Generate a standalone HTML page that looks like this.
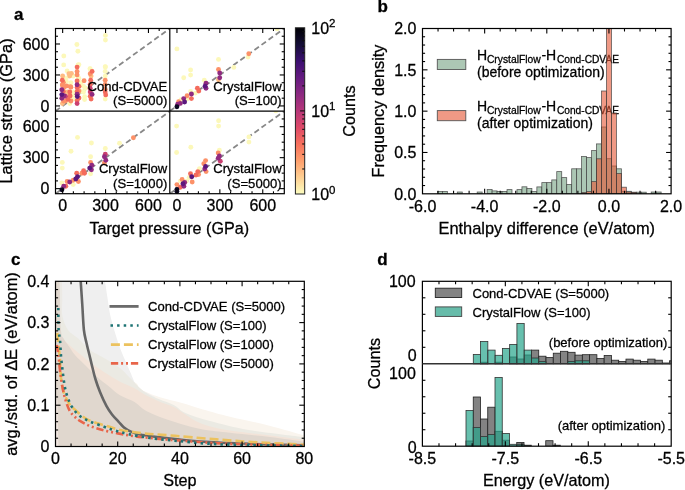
<!DOCTYPE html>
<html><head><meta charset="utf-8"><style>
html,body{margin:0;padding:0;background:#fff;}
svg{display:block;font-family:"Liberation Sans", sans-serif;will-change:transform;} text{stroke:#000;stroke-width:0.28px;}
</style></head><body>
<svg width="685" height="490" viewBox="0 0 685 490">
<rect width="685" height="490" fill="#fff"/>
<text x="14.10" y="20.20" font-size="17" text-anchor="start" font-weight="bold" fill="#000" >a</text>
<text x="377.40" y="12.40" font-size="17" text-anchor="start" font-weight="bold" fill="#000" >b</text>
<text x="10.90" y="264.90" font-size="17" text-anchor="start" font-weight="bold" fill="#000" >c</text>
<text x="377.30" y="264.60" font-size="17" text-anchor="start" font-weight="bold" fill="#000" >d</text>
<defs>
<clipPath id="cp_tl"><rect x="55.5" y="28.5" width="114.4" height="82.6"/></clipPath>
<clipPath id="cp_tr"><rect x="169.8" y="28.5" width="114.4" height="82.6"/></clipPath>
<clipPath id="cp_bl"><rect x="55.5" y="111.2" width="114.4" height="82.6"/></clipPath>
<clipPath id="cp_br"><rect x="169.8" y="111.2" width="114.4" height="82.6"/></clipPath>
<linearGradient id="cbar" x1="0" y1="0" x2="0" y2="1"><stop offset="0.00" stop-color="#000004"/><stop offset="0.10" stop-color="#140e36"/><stop offset="0.20" stop-color="#3b0f70"/><stop offset="0.30" stop-color="#641a80"/><stop offset="0.40" stop-color="#8c2981"/><stop offset="0.50" stop-color="#b73779"/><stop offset="0.60" stop-color="#de4968"/><stop offset="0.70" stop-color="#f7705c"/><stop offset="0.80" stop-color="#fe9f6d"/><stop offset="0.90" stop-color="#fecf92"/><stop offset="1.00" stop-color="#fcfdbf"/></linearGradient>
</defs>
<g clip-path="url(#cp_tl)">
<line x1="55.50" y1="111.10" x2="169.90" y2="28.50" stroke="#888" stroke-width="1.8" stroke-dasharray="5.5 3.2"/>
<circle cx="105.4" cy="35.4" r="2.45" fill="#fcf8ba"/>
<circle cx="105.4" cy="40.1" r="2.45" fill="#fcf8ba"/>
<circle cx="76.9" cy="44.5" r="2.45" fill="#fcf8ba"/>
<circle cx="77.9" cy="51.2" r="2.45" fill="#fcf8ba"/>
<circle cx="63.8" cy="56" r="2.45" fill="#fcf8ba"/>
<circle cx="63.7" cy="64.9" r="2.45" fill="#fcf8ba"/>
<circle cx="78" cy="64.9" r="2.45" fill="#fcf8ba"/>
<circle cx="90" cy="68.7" r="2.45" fill="#fcf8ba"/>
<circle cx="105.4" cy="67" r="2.45" fill="#fcf8ba"/>
<circle cx="67.1" cy="70.9" r="2.45" fill="#fcf8ba"/>
<circle cx="73.1" cy="76" r="2.45" fill="#fcf8ba"/>
<circle cx="78.3" cy="78.3" r="2.45" fill="#fcf8ba"/>
<circle cx="66.3" cy="78" r="2.45" fill="#fcf8ba"/>
<circle cx="70.9" cy="82.6" r="2.45" fill="#fcf8ba"/>
<circle cx="66.3" cy="81.4" r="2.45" fill="#fcf8ba"/>
<circle cx="80.6" cy="82.6" r="2.45" fill="#fcf8ba"/>
<circle cx="70.3" cy="85.1" r="2.45" fill="#fcf8ba"/>
<circle cx="65.5" cy="92" r="2.45" fill="#fcf8ba"/>
<circle cx="73" cy="92" r="2.45" fill="#fcf8ba"/>
<circle cx="67.9" cy="96.2" r="2.45" fill="#fcf8ba"/>
<circle cx="73" cy="95.7" r="2.45" fill="#fcf8ba"/>
<circle cx="73" cy="98.9" r="2.45" fill="#fcf8ba"/>
<circle cx="69.8" cy="103.6" r="2.45" fill="#fcf8ba"/>
<circle cx="81" cy="85.1" r="2.45" fill="#fcf8ba"/>
<circle cx="81" cy="91.4" r="2.45" fill="#fcf8ba"/>
<circle cx="78.9" cy="64.8" r="2.45" fill="#fcf8ba"/>
<circle cx="90.2" cy="69" r="2.45" fill="#fcf8ba"/>
<circle cx="78.9" cy="78.4" r="2.45" fill="#fcf8ba"/>
<circle cx="80.8" cy="83.6" r="2.45" fill="#fcf8ba"/>
<circle cx="83.6" cy="86.4" r="2.45" fill="#fcf8ba"/>
<circle cx="85.5" cy="88.3" r="2.45" fill="#fcf8ba"/>
<circle cx="83.6" cy="92" r="2.45" fill="#fcf8ba"/>
<circle cx="84.6" cy="96.7" r="2.45" fill="#fcf8ba"/>
<circle cx="84.6" cy="99.6" r="2.45" fill="#fcf8ba"/>
<circle cx="105.2" cy="66.7" r="2.45" fill="#fcf8ba"/>
<circle cx="105.2" cy="71.4" r="2.45" fill="#fcf8ba"/>
<circle cx="105.2" cy="76.1" r="2.45" fill="#fcf8ba"/>
<circle cx="105.2" cy="99.1" r="2.45" fill="#fcf8ba"/>
<circle cx="68.9" cy="73.7" r="2.45" fill="#febc83"/>
<circle cx="71.4" cy="73.4" r="2.45" fill="#febc83"/>
<circle cx="69.7" cy="76" r="2.45" fill="#febc83"/>
<circle cx="62.6" cy="76" r="2.45" fill="#febc83"/>
<circle cx="62.4" cy="85.1" r="2.45" fill="#febc83"/>
<circle cx="67.7" cy="92" r="2.45" fill="#febc83"/>
<circle cx="62.4" cy="103.6" r="2.45" fill="#febc83"/>
<circle cx="91.1" cy="76.1" r="2.45" fill="#febc83"/>
<circle cx="77.1" cy="71.4" r="2.45" fill="#fc9168"/>
<circle cx="77.1" cy="74.9" r="2.45" fill="#fc9168"/>
<circle cx="63.4" cy="82.6" r="2.45" fill="#fc9168"/>
<circle cx="62.3" cy="84.9" r="2.45" fill="#fc9168"/>
<circle cx="66.6" cy="86" r="2.45" fill="#fc9168"/>
<circle cx="70.3" cy="86.6" r="2.45" fill="#fc9168"/>
<circle cx="64" cy="87.2" r="2.45" fill="#fc9168"/>
<circle cx="70.9" cy="87.2" r="2.45" fill="#fc9168"/>
<circle cx="63.4" cy="101" r="2.45" fill="#fc9168"/>
<circle cx="65.5" cy="101" r="2.45" fill="#fc9168"/>
<circle cx="70.9" cy="101" r="2.45" fill="#fc9168"/>
<circle cx="90.2" cy="73.7" r="2.45" fill="#fc9168"/>
<circle cx="84.1" cy="80.8" r="2.45" fill="#fc9168"/>
<circle cx="79" cy="91.1" r="2.45" fill="#fc9168"/>
<circle cx="105.2" cy="80.3" r="2.45" fill="#fc9168"/>
<circle cx="105.2" cy="84.5" r="2.45" fill="#fc9168"/>
<circle cx="105.2" cy="89.2" r="2.45" fill="#fc9168"/>
<circle cx="77.1" cy="67.1" r="2.45" fill="#f46c5d"/>
<circle cx="62.3" cy="80.3" r="2.45" fill="#f46c5d"/>
<circle cx="63.4" cy="91.4" r="2.45" fill="#f46c5d"/>
<circle cx="69.8" cy="92" r="2.45" fill="#f46c5d"/>
<circle cx="70.1" cy="95.9" r="2.45" fill="#f46c5d"/>
<circle cx="68.2" cy="99.4" r="2.45" fill="#f46c5d"/>
<circle cx="77.1" cy="81" r="2.45" fill="#f46c5d"/>
<circle cx="77.1" cy="87.6" r="2.45" fill="#f46c5d"/>
<circle cx="77.1" cy="91.4" r="2.45" fill="#f46c5d"/>
<circle cx="77.1" cy="100.7" r="2.45" fill="#f46c5d"/>
<circle cx="92.1" cy="71.4" r="2.45" fill="#f46c5d"/>
<circle cx="90.7" cy="80.3" r="2.45" fill="#f46c5d"/>
<circle cx="90.2" cy="84.5" r="2.45" fill="#f46c5d"/>
<circle cx="90.2" cy="96.3" r="2.45" fill="#f46c5d"/>
<circle cx="91.1" cy="99.1" r="2.45" fill="#f46c5d"/>
<circle cx="79" cy="86.4" r="2.45" fill="#f46c5d"/>
<circle cx="79" cy="98" r="2.45" fill="#f46c5d"/>
<circle cx="105.2" cy="92" r="2.45" fill="#f46c5d"/>
<circle cx="105.7" cy="94.9" r="2.45" fill="#f46c5d"/>
<circle cx="65.5" cy="96.2" r="2.45" fill="#ca4070"/>
<circle cx="77.1" cy="103.6" r="2.45" fill="#ca4070"/>
<circle cx="90.2" cy="88.3" r="2.45" fill="#ca4070"/>
<circle cx="90.2" cy="92" r="2.45" fill="#ca4070"/>
<circle cx="61.8" cy="89.8" r="2.45" fill="#902a80"/>
<circle cx="64" cy="95.7" r="2.45" fill="#902a80"/>
<circle cx="61.8" cy="98.3" r="2.45" fill="#902a80"/>
<circle cx="77.1" cy="84.8" r="2.45" fill="#902a80"/>
<circle cx="77.1" cy="94.2" r="2.45" fill="#902a80"/>
<circle cx="92.1" cy="94.4" r="2.45" fill="#902a80"/>
<circle cx="61.8" cy="94.6" r="2.45" fill="#5c187d"/>
<circle cx="77.3" cy="96.6" r="2.45" fill="#5c187d"/>
</g>
<g clip-path="url(#cp_tr)">
<line x1="169.80" y1="111.10" x2="284.20" y2="28.50" stroke="#888" stroke-width="1.8" stroke-dasharray="5.5 3.2"/>
<circle cx="176.9" cy="48.9" r="2.45" fill="#fcf8ba"/>
<circle cx="183.7" cy="77.7" r="2.45" fill="#fcf8ba"/>
<circle cx="190.6" cy="70" r="2.45" fill="#fcf8ba"/>
<circle cx="190.6" cy="75.1" r="2.45" fill="#fcf8ba"/>
<circle cx="218.5" cy="59.4" r="2.45" fill="#fcf8ba"/>
<circle cx="233.8" cy="67.4" r="2.45" fill="#fcf8ba"/>
<circle cx="248" cy="57.1" r="2.45" fill="#fcf8ba"/>
<circle cx="204.3" cy="80.3" r="2.45" fill="#fcf8ba"/>
<circle cx="195.4" cy="93.1" r="2.45" fill="#fcf8ba"/>
<circle cx="190.6" cy="91.4" r="2.45" fill="#fcf8ba"/>
<circle cx="187.1" cy="99.1" r="2.45" fill="#fcf8ba"/>
<circle cx="181.1" cy="99.6" r="2.45" fill="#fcf8ba"/>
<circle cx="277.1" cy="28.9" r="2.45" fill="#fcf8ba"/>
<circle cx="218.5" cy="79.8" r="2.45" fill="#febc83"/>
<circle cx="218.5" cy="69.5" r="2.45" fill="#fc9168"/>
<circle cx="248.8" cy="53.7" r="2.45" fill="#fc9168"/>
<circle cx="187.1" cy="95.7" r="2.45" fill="#fc9168"/>
<circle cx="178.6" cy="101.7" r="2.45" fill="#fc9168"/>
<circle cx="197.4" cy="88.3" r="2.45" fill="#f46c5d"/>
<circle cx="198.8" cy="91.1" r="2.45" fill="#f46c5d"/>
<circle cx="191.4" cy="98.6" r="2.45" fill="#f46c5d"/>
<circle cx="219.7" cy="72.9" r="2.45" fill="#902a80"/>
<circle cx="219.7" cy="77.7" r="2.45" fill="#902a80"/>
<circle cx="206" cy="83.2" r="2.45" fill="#902a80"/>
<circle cx="206" cy="88.3" r="2.45" fill="#902a80"/>
<circle cx="191.4" cy="94" r="2.45" fill="#902a80"/>
<circle cx="183.7" cy="98.6" r="2.45" fill="#902a80"/>
<circle cx="180.3" cy="103.4" r="2.45" fill="#902a80"/>
<circle cx="177.7" cy="104.3" r="2.45" fill="#902a80"/>
<circle cx="205.1" cy="86.3" r="2.45" fill="#5c187d"/>
<circle cx="184.6" cy="102" r="2.45" fill="#5c187d"/>
<circle cx="176.9" cy="106.8" r="2.45" fill="#0c0822"/>
</g>
<g clip-path="url(#cp_bl)">
<line x1="55.50" y1="193.80" x2="169.90" y2="111.20" stroke="#888" stroke-width="1.8" stroke-dasharray="5.5 3.2"/>
<circle cx="77.5" cy="137.4" r="2.45" fill="#fcf8ba"/>
<circle cx="71" cy="151.3" r="2.45" fill="#fcf8ba"/>
<circle cx="91.4" cy="143" r="2.45" fill="#fcf8ba"/>
<circle cx="105.3" cy="148.5" r="2.45" fill="#fcf8ba"/>
<circle cx="119.5" cy="143.3" r="2.45" fill="#fcf8ba"/>
<circle cx="62.3" cy="162.4" r="2.45" fill="#fcf8ba"/>
<circle cx="62.3" cy="168.1" r="2.45" fill="#fcf8ba"/>
<circle cx="90.6" cy="156.8" r="2.45" fill="#fcf8ba"/>
<circle cx="90.6" cy="173.8" r="2.45" fill="#fcf8ba"/>
<circle cx="73.2" cy="184.6" r="2.45" fill="#fcf8ba"/>
<circle cx="61.9" cy="182.9" r="2.45" fill="#fcf8ba"/>
<circle cx="133.4" cy="137.8" r="2.45" fill="#fc9168"/>
<circle cx="90.6" cy="162.4" r="2.45" fill="#fc9168"/>
<circle cx="104.4" cy="162.9" r="2.45" fill="#fc9168"/>
<circle cx="81.9" cy="173.3" r="2.45" fill="#fc9168"/>
<circle cx="78.4" cy="181.5" r="2.45" fill="#fc9168"/>
<circle cx="73.2" cy="180.3" r="2.45" fill="#fc9168"/>
<circle cx="67.1" cy="181.5" r="2.45" fill="#fc9168"/>
<circle cx="83.6" cy="170.7" r="2.45" fill="#f46c5d"/>
<circle cx="84.5" cy="173.3" r="2.45" fill="#f46c5d"/>
<circle cx="76.7" cy="173.3" r="2.45" fill="#f46c5d"/>
<circle cx="65.8" cy="186.3" r="2.45" fill="#f46c5d"/>
<circle cx="105.3" cy="154.2" r="2.45" fill="#ca4070"/>
<circle cx="91.8" cy="165.2" r="2.45" fill="#902a80"/>
<circle cx="91.4" cy="169.8" r="2.45" fill="#902a80"/>
<circle cx="104.4" cy="156.8" r="2.45" fill="#902a80"/>
<circle cx="105.8" cy="160.3" r="2.45" fill="#902a80"/>
<circle cx="69.7" cy="182" r="2.45" fill="#902a80"/>
<circle cx="63.7" cy="186.3" r="2.45" fill="#902a80"/>
<circle cx="89.7" cy="168.1" r="2.45" fill="#5c187d"/>
<circle cx="77.5" cy="176.8" r="2.45" fill="#5c187d"/>
<circle cx="75.8" cy="179" r="2.45" fill="#5c187d"/>
<circle cx="61.9" cy="189.8" r="2.45" fill="#0c0822"/>
</g>
<g clip-path="url(#cp_br)">
<line x1="169.80" y1="193.80" x2="284.20" y2="111.20" stroke="#888" stroke-width="1.8" stroke-dasharray="5.5 3.2"/>
<circle cx="176.6" cy="126.1" r="2.45" fill="#fcf8ba"/>
<circle cx="218.6" cy="120.8" r="2.45" fill="#fcf8ba"/>
<circle cx="218.6" cy="126.1" r="2.45" fill="#fcf8ba"/>
<circle cx="248.9" cy="136.9" r="2.45" fill="#fcf8ba"/>
<circle cx="248.9" cy="142.1" r="2.45" fill="#fcf8ba"/>
<circle cx="190.8" cy="147.3" r="2.45" fill="#fcf8ba"/>
<circle cx="176.6" cy="152.5" r="2.45" fill="#fcf8ba"/>
<circle cx="219.4" cy="150.2" r="2.45" fill="#fcf8ba"/>
<circle cx="199.5" cy="168.6" r="2.45" fill="#fcf8ba"/>
<circle cx="189.1" cy="177.6" r="2.45" fill="#fcf8ba"/>
<circle cx="186.5" cy="181.1" r="2.45" fill="#fcf8ba"/>
<circle cx="180.4" cy="181.1" r="2.45" fill="#fcf8ba"/>
<circle cx="275.8" cy="110.9" r="2.45" fill="#fcf8ba"/>
<circle cx="218.2" cy="153" r="2.45" fill="#fc9168"/>
<circle cx="205.6" cy="160.6" r="2.45" fill="#fc9168"/>
<circle cx="203.8" cy="163.8" r="2.45" fill="#fc9168"/>
<circle cx="206.1" cy="171.6" r="2.45" fill="#fc9168"/>
<circle cx="198.6" cy="174.5" r="2.45" fill="#fc9168"/>
<circle cx="192.2" cy="182" r="2.45" fill="#fc9168"/>
<circle cx="182.1" cy="179.4" r="2.45" fill="#fc9168"/>
<circle cx="176.9" cy="184.6" r="2.45" fill="#fc9168"/>
<circle cx="197.8" cy="171.6" r="2.45" fill="#f46c5d"/>
<circle cx="196" cy="175" r="2.45" fill="#f46c5d"/>
<circle cx="190.5" cy="173.8" r="2.45" fill="#f46c5d"/>
<circle cx="180.4" cy="187.2" r="2.45" fill="#f46c5d"/>
<circle cx="220.3" cy="161.2" r="2.45" fill="#ca4070"/>
<circle cx="219.4" cy="156" r="2.45" fill="#902a80"/>
<circle cx="218.2" cy="158.2" r="2.45" fill="#902a80"/>
<circle cx="204.7" cy="169" r="2.45" fill="#902a80"/>
<circle cx="184.7" cy="182.5" r="2.45" fill="#902a80"/>
<circle cx="183.9" cy="186.3" r="2.45" fill="#902a80"/>
<circle cx="205.6" cy="166.4" r="2.45" fill="#5c187d"/>
<circle cx="191.7" cy="176.8" r="2.45" fill="#5c187d"/>
<circle cx="183" cy="183.7" r="2.45" fill="#5c187d"/>
<circle cx="176.9" cy="189.4" r="2.45" fill="#0c0822"/>
<circle cx="176.9" cy="191.5" r="2.45" fill="#0c0822"/>
</g>
<text x="167.30" y="90.70" font-size="13.1" text-anchor="end" font-weight="normal" fill="#000" >Cond-CDVAE</text>
<text x="167.30" y="105.10" font-size="13.1" text-anchor="end" font-weight="normal" fill="#000" >(S=5000)</text>
<text x="281.60" y="90.70" font-size="13.1" text-anchor="end" font-weight="normal" fill="#000" >CrystalFlow</text>
<text x="281.60" y="105.10" font-size="13.1" text-anchor="end" font-weight="normal" fill="#000" >(S=100)</text>
<text x="167.30" y="173.40" font-size="13.1" text-anchor="end" font-weight="normal" fill="#000" >CrystalFlow</text>
<text x="167.30" y="187.80" font-size="13.1" text-anchor="end" font-weight="normal" fill="#000" >(S=1000)</text>
<text x="281.60" y="173.40" font-size="13.1" text-anchor="end" font-weight="normal" fill="#000" >CrystalFlow</text>
<text x="281.60" y="187.80" font-size="13.1" text-anchor="end" font-weight="normal" fill="#000" >(S=5000)</text>
<rect x="55.5" y="28.5" width="228.8" height="165.2" fill="none" stroke="#000" stroke-width="1.2"/>
<line x1="169.80" y1="28.50" x2="169.80" y2="193.80" stroke="#000" stroke-width="1.2" />
<line x1="55.50" y1="111.20" x2="284.20" y2="111.20" stroke="#000" stroke-width="1.2" />
<line x1="62.65" y1="28.50" x2="62.65" y2="33.00" stroke="#000" stroke-width="1.1" />
<line x1="62.65" y1="193.80" x2="62.65" y2="189.30" stroke="#000" stroke-width="1.1" />
<line x1="73.38" y1="28.50" x2="73.38" y2="31.00" stroke="#000" stroke-width="1.1" />
<line x1="73.38" y1="193.80" x2="73.38" y2="191.30" stroke="#000" stroke-width="1.1" />
<line x1="84.10" y1="28.50" x2="84.10" y2="31.00" stroke="#000" stroke-width="1.1" />
<line x1="84.10" y1="193.80" x2="84.10" y2="191.30" stroke="#000" stroke-width="1.1" />
<line x1="94.83" y1="28.50" x2="94.83" y2="31.00" stroke="#000" stroke-width="1.1" />
<line x1="94.83" y1="193.80" x2="94.83" y2="191.30" stroke="#000" stroke-width="1.1" />
<line x1="105.55" y1="28.50" x2="105.55" y2="33.00" stroke="#000" stroke-width="1.1" />
<line x1="105.55" y1="193.80" x2="105.55" y2="189.30" stroke="#000" stroke-width="1.1" />
<line x1="116.28" y1="28.50" x2="116.28" y2="31.00" stroke="#000" stroke-width="1.1" />
<line x1="116.28" y1="193.80" x2="116.28" y2="191.30" stroke="#000" stroke-width="1.1" />
<line x1="127.00" y1="28.50" x2="127.00" y2="31.00" stroke="#000" stroke-width="1.1" />
<line x1="127.00" y1="193.80" x2="127.00" y2="191.30" stroke="#000" stroke-width="1.1" />
<line x1="137.73" y1="28.50" x2="137.73" y2="31.00" stroke="#000" stroke-width="1.1" />
<line x1="137.73" y1="193.80" x2="137.73" y2="191.30" stroke="#000" stroke-width="1.1" />
<line x1="148.45" y1="28.50" x2="148.45" y2="33.00" stroke="#000" stroke-width="1.1" />
<line x1="148.45" y1="193.80" x2="148.45" y2="189.30" stroke="#000" stroke-width="1.1" />
<line x1="159.18" y1="28.50" x2="159.18" y2="31.00" stroke="#000" stroke-width="1.1" />
<line x1="159.18" y1="193.80" x2="159.18" y2="191.30" stroke="#000" stroke-width="1.1" />
<line x1="176.95" y1="28.50" x2="176.95" y2="33.00" stroke="#000" stroke-width="1.1" />
<line x1="176.95" y1="193.80" x2="176.95" y2="189.30" stroke="#000" stroke-width="1.1" />
<line x1="187.68" y1="28.50" x2="187.68" y2="31.00" stroke="#000" stroke-width="1.1" />
<line x1="187.68" y1="193.80" x2="187.68" y2="191.30" stroke="#000" stroke-width="1.1" />
<line x1="198.40" y1="28.50" x2="198.40" y2="31.00" stroke="#000" stroke-width="1.1" />
<line x1="198.40" y1="193.80" x2="198.40" y2="191.30" stroke="#000" stroke-width="1.1" />
<line x1="209.12" y1="28.50" x2="209.12" y2="31.00" stroke="#000" stroke-width="1.1" />
<line x1="209.12" y1="193.80" x2="209.12" y2="191.30" stroke="#000" stroke-width="1.1" />
<line x1="219.85" y1="28.50" x2="219.85" y2="33.00" stroke="#000" stroke-width="1.1" />
<line x1="219.85" y1="193.80" x2="219.85" y2="189.30" stroke="#000" stroke-width="1.1" />
<line x1="230.58" y1="28.50" x2="230.58" y2="31.00" stroke="#000" stroke-width="1.1" />
<line x1="230.58" y1="193.80" x2="230.58" y2="191.30" stroke="#000" stroke-width="1.1" />
<line x1="241.30" y1="28.50" x2="241.30" y2="31.00" stroke="#000" stroke-width="1.1" />
<line x1="241.30" y1="193.80" x2="241.30" y2="191.30" stroke="#000" stroke-width="1.1" />
<line x1="252.03" y1="28.50" x2="252.03" y2="31.00" stroke="#000" stroke-width="1.1" />
<line x1="252.03" y1="193.80" x2="252.03" y2="191.30" stroke="#000" stroke-width="1.1" />
<line x1="262.75" y1="28.50" x2="262.75" y2="33.00" stroke="#000" stroke-width="1.1" />
<line x1="262.75" y1="193.80" x2="262.75" y2="189.30" stroke="#000" stroke-width="1.1" />
<line x1="273.48" y1="28.50" x2="273.48" y2="31.00" stroke="#000" stroke-width="1.1" />
<line x1="273.48" y1="193.80" x2="273.48" y2="191.30" stroke="#000" stroke-width="1.1" />
<line x1="55.50" y1="105.94" x2="60.00" y2="105.94" stroke="#000" stroke-width="1.1" />
<line x1="284.20" y1="105.94" x2="279.70" y2="105.94" stroke="#000" stroke-width="1.1" />
<line x1="55.50" y1="98.19" x2="58.00" y2="98.19" stroke="#000" stroke-width="1.1" />
<line x1="284.20" y1="98.19" x2="281.70" y2="98.19" stroke="#000" stroke-width="1.1" />
<line x1="55.50" y1="90.45" x2="58.00" y2="90.45" stroke="#000" stroke-width="1.1" />
<line x1="284.20" y1="90.45" x2="281.70" y2="90.45" stroke="#000" stroke-width="1.1" />
<line x1="55.50" y1="82.71" x2="58.00" y2="82.71" stroke="#000" stroke-width="1.1" />
<line x1="284.20" y1="82.71" x2="281.70" y2="82.71" stroke="#000" stroke-width="1.1" />
<line x1="55.50" y1="74.96" x2="60.00" y2="74.96" stroke="#000" stroke-width="1.1" />
<line x1="284.20" y1="74.96" x2="279.70" y2="74.96" stroke="#000" stroke-width="1.1" />
<line x1="55.50" y1="67.22" x2="58.00" y2="67.22" stroke="#000" stroke-width="1.1" />
<line x1="284.20" y1="67.22" x2="281.70" y2="67.22" stroke="#000" stroke-width="1.1" />
<line x1="55.50" y1="59.47" x2="58.00" y2="59.47" stroke="#000" stroke-width="1.1" />
<line x1="284.20" y1="59.47" x2="281.70" y2="59.47" stroke="#000" stroke-width="1.1" />
<line x1="55.50" y1="51.73" x2="58.00" y2="51.73" stroke="#000" stroke-width="1.1" />
<line x1="284.20" y1="51.73" x2="281.70" y2="51.73" stroke="#000" stroke-width="1.1" />
<line x1="55.50" y1="43.99" x2="60.00" y2="43.99" stroke="#000" stroke-width="1.1" />
<line x1="284.20" y1="43.99" x2="279.70" y2="43.99" stroke="#000" stroke-width="1.1" />
<line x1="55.50" y1="36.24" x2="58.00" y2="36.24" stroke="#000" stroke-width="1.1" />
<line x1="284.20" y1="36.24" x2="281.70" y2="36.24" stroke="#000" stroke-width="1.1" />
<line x1="55.50" y1="188.64" x2="60.00" y2="188.64" stroke="#000" stroke-width="1.1" />
<line x1="284.20" y1="188.64" x2="279.70" y2="188.64" stroke="#000" stroke-width="1.1" />
<line x1="55.50" y1="180.89" x2="58.00" y2="180.89" stroke="#000" stroke-width="1.1" />
<line x1="284.20" y1="180.89" x2="281.70" y2="180.89" stroke="#000" stroke-width="1.1" />
<line x1="55.50" y1="173.15" x2="58.00" y2="173.15" stroke="#000" stroke-width="1.1" />
<line x1="284.20" y1="173.15" x2="281.70" y2="173.15" stroke="#000" stroke-width="1.1" />
<line x1="55.50" y1="165.41" x2="58.00" y2="165.41" stroke="#000" stroke-width="1.1" />
<line x1="284.20" y1="165.41" x2="281.70" y2="165.41" stroke="#000" stroke-width="1.1" />
<line x1="55.50" y1="157.66" x2="60.00" y2="157.66" stroke="#000" stroke-width="1.1" />
<line x1="284.20" y1="157.66" x2="279.70" y2="157.66" stroke="#000" stroke-width="1.1" />
<line x1="55.50" y1="149.92" x2="58.00" y2="149.92" stroke="#000" stroke-width="1.1" />
<line x1="284.20" y1="149.92" x2="281.70" y2="149.92" stroke="#000" stroke-width="1.1" />
<line x1="55.50" y1="142.18" x2="58.00" y2="142.18" stroke="#000" stroke-width="1.1" />
<line x1="284.20" y1="142.18" x2="281.70" y2="142.18" stroke="#000" stroke-width="1.1" />
<line x1="55.50" y1="134.43" x2="58.00" y2="134.43" stroke="#000" stroke-width="1.1" />
<line x1="284.20" y1="134.43" x2="281.70" y2="134.43" stroke="#000" stroke-width="1.1" />
<line x1="55.50" y1="126.69" x2="60.00" y2="126.69" stroke="#000" stroke-width="1.1" />
<line x1="284.20" y1="126.69" x2="279.70" y2="126.69" stroke="#000" stroke-width="1.1" />
<line x1="55.50" y1="118.94" x2="58.00" y2="118.94" stroke="#000" stroke-width="1.1" />
<line x1="284.20" y1="118.94" x2="281.70" y2="118.94" stroke="#000" stroke-width="1.1" />
<text x="49.40" y="111.74" font-size="16" text-anchor="end" font-weight="normal" fill="#000" >0</text>
<text x="49.40" y="80.76" font-size="16" text-anchor="end" font-weight="normal" fill="#000" >300</text>
<text x="49.40" y="49.79" font-size="16" text-anchor="end" font-weight="normal" fill="#000" >600</text>
<text x="49.40" y="194.44" font-size="16" text-anchor="end" font-weight="normal" fill="#000" >0</text>
<text x="49.40" y="163.46" font-size="16" text-anchor="end" font-weight="normal" fill="#000" >300</text>
<text x="49.40" y="132.49" font-size="16" text-anchor="end" font-weight="normal" fill="#000" >600</text>
<text x="62.65" y="211.40" font-size="16" text-anchor="middle" font-weight="normal" fill="#000" >0</text>
<text x="105.55" y="211.40" font-size="16" text-anchor="middle" font-weight="normal" fill="#000" >300</text>
<text x="148.45" y="211.40" font-size="16" text-anchor="middle" font-weight="normal" fill="#000" >600</text>
<text x="176.95" y="211.40" font-size="16" text-anchor="middle" font-weight="normal" fill="#000" >0</text>
<text x="219.85" y="211.40" font-size="16" text-anchor="middle" font-weight="normal" fill="#000" >300</text>
<text x="262.75" y="211.40" font-size="16" text-anchor="middle" font-weight="normal" fill="#000" >600</text>
<text x="169.30" y="234.10" font-size="16.15" text-anchor="middle" font-weight="normal" fill="#000" >Target pressure (GPa)</text>
<text x="11.80" y="111.00" font-size="16.45" text-anchor="middle" font-weight="normal" fill="#000" transform="rotate(-90 11.8 111.0)">Lattice stress (GPa)</text>
<rect x="295.40" y="27.80" width="9.30" height="166.20" fill="url(#cbar)" stroke="#222" stroke-width="1.0" />
<line x1="304.70" y1="168.98" x2="302.20" y2="168.98" stroke="#111" stroke-width="1.1" />
<line x1="304.70" y1="154.35" x2="302.20" y2="154.35" stroke="#111" stroke-width="1.1" />
<line x1="304.70" y1="143.97" x2="302.20" y2="143.97" stroke="#111" stroke-width="1.1" />
<line x1="304.70" y1="135.92" x2="302.20" y2="135.92" stroke="#111" stroke-width="1.1" />
<line x1="304.70" y1="129.34" x2="302.20" y2="129.34" stroke="#111" stroke-width="1.1" />
<line x1="304.70" y1="123.77" x2="302.20" y2="123.77" stroke="#111" stroke-width="1.1" />
<line x1="304.70" y1="118.95" x2="302.20" y2="118.95" stroke="#111" stroke-width="1.1" />
<line x1="304.70" y1="114.70" x2="302.20" y2="114.70" stroke="#111" stroke-width="1.1" />
<line x1="304.70" y1="85.88" x2="302.20" y2="85.88" stroke="#111" stroke-width="1.1" />
<line x1="304.70" y1="71.25" x2="302.20" y2="71.25" stroke="#111" stroke-width="1.1" />
<line x1="304.70" y1="60.87" x2="302.20" y2="60.87" stroke="#111" stroke-width="1.1" />
<line x1="304.70" y1="52.82" x2="302.20" y2="52.82" stroke="#111" stroke-width="1.1" />
<line x1="304.70" y1="46.24" x2="302.20" y2="46.24" stroke="#111" stroke-width="1.1" />
<line x1="304.70" y1="40.67" x2="302.20" y2="40.67" stroke="#111" stroke-width="1.1" />
<line x1="304.70" y1="35.85" x2="302.20" y2="35.85" stroke="#111" stroke-width="1.1" />
<line x1="304.70" y1="31.60" x2="302.20" y2="31.60" stroke="#111" stroke-width="1.1" />
<line x1="304.70" y1="110.90" x2="300.10" y2="110.90" stroke="#111" stroke-width="1.1" />
<text x="311.3" y="33.60" font-size="16">10<tspan dy="-6.3" font-size="11.5">2</tspan></text>
<text x="311.3" y="116.70" font-size="16">10<tspan dy="-6.3" font-size="11.5">1</tspan></text>
<text x="311.3" y="199.80" font-size="16">10<tspan dy="-6.3" font-size="11.5">0</tspan></text>
<text x="354.60" y="111.00" font-size="16.2" text-anchor="middle" font-weight="normal" fill="#000" transform="rotate(-90 354.6 111.0)">Counts</text>
<clipPath id="cp_b"><rect x="422.5" y="28.5" width="248.60000000000002" height="165.3"/></clipPath>
<rect x="437.30" y="59.40" width="28.50" height="10.10" fill="#acc7b4" stroke="#555" stroke-width="0.9" />
<rect x="437.30" y="110.60" width="28.50" height="10.10" fill="#ef9985" stroke="#555" stroke-width="0.9" />
<text x="477.0" y="59.70" font-size="14">H</text>
<text x="486.9" y="62.50" font-size="10.3">CrystalFlow</text>
<text x="541.4" y="59.70" font-size="14">-H</text>
<text x="556.9" y="62.50" font-size="10.2">Cond-CDVAE</text>
<text x="477.0" y="110.90" font-size="14">H</text>
<text x="486.9" y="113.70" font-size="10.3">CrystalFlow</text>
<text x="541.4" y="110.90" font-size="14">-H</text>
<text x="556.9" y="113.70" font-size="10.2">Cond-CDVAE</text>
<text x="477.00" y="76.70" font-size="14" text-anchor="start" font-weight="normal" fill="#000" >(before optimization)</text>
<text x="477.00" y="127.90" font-size="14" text-anchor="start" font-weight="normal" fill="#000" >(after optimization)</text>
<g clip-path="url(#cp_b)">
<rect x="437.42" y="191.50" width="4.97" height="2.30" fill="#acc7b4" stroke="#3a3a3a" stroke-width="0.8" stroke-opacity="0.8"/>
<rect x="442.39" y="191.50" width="4.97" height="2.30" fill="#acc7b4" stroke="#3a3a3a" stroke-width="0.8" stroke-opacity="0.8"/>
<rect x="457.30" y="192.00" width="4.97" height="1.80" fill="#acc7b4" stroke="#3a3a3a" stroke-width="0.8" stroke-opacity="0.8"/>
<rect x="477.19" y="192.00" width="4.97" height="1.80" fill="#acc7b4" stroke="#3a3a3a" stroke-width="0.8" stroke-opacity="0.8"/>
<rect x="487.14" y="189.50" width="4.97" height="4.30" fill="#acc7b4" stroke="#3a3a3a" stroke-width="0.8" stroke-opacity="0.8"/>
<rect x="492.11" y="190.90" width="4.97" height="2.90" fill="#acc7b4" stroke="#3a3a3a" stroke-width="0.8" stroke-opacity="0.8"/>
<rect x="497.08" y="191.40" width="4.97" height="2.40" fill="#acc7b4" stroke="#3a3a3a" stroke-width="0.8" stroke-opacity="0.8"/>
<rect x="502.05" y="191.40" width="4.97" height="2.40" fill="#acc7b4" stroke="#3a3a3a" stroke-width="0.8" stroke-opacity="0.8"/>
<rect x="507.02" y="189.60" width="4.97" height="4.20" fill="#acc7b4" stroke="#3a3a3a" stroke-width="0.8" stroke-opacity="0.8"/>
<rect x="516.97" y="189.60" width="4.97" height="4.20" fill="#acc7b4" stroke="#3a3a3a" stroke-width="0.8" stroke-opacity="0.8"/>
<rect x="521.94" y="186.80" width="4.97" height="7.00" fill="#acc7b4" stroke="#3a3a3a" stroke-width="0.8" stroke-opacity="0.8"/>
<rect x="526.91" y="188.50" width="4.97" height="5.30" fill="#acc7b4" stroke="#3a3a3a" stroke-width="0.8" stroke-opacity="0.8"/>
<rect x="531.88" y="191.60" width="4.97" height="2.20" fill="#acc7b4" stroke="#3a3a3a" stroke-width="0.8" stroke-opacity="0.8"/>
<rect x="536.86" y="186.90" width="4.97" height="6.90" fill="#acc7b4" stroke="#3a3a3a" stroke-width="0.8" stroke-opacity="0.8"/>
<rect x="541.83" y="182.60" width="4.97" height="11.20" fill="#acc7b4" stroke="#3a3a3a" stroke-width="0.8" stroke-opacity="0.8"/>
<rect x="546.80" y="182.60" width="4.97" height="11.20" fill="#acc7b4" stroke="#3a3a3a" stroke-width="0.8" stroke-opacity="0.8"/>
<rect x="551.77" y="179.90" width="4.97" height="13.90" fill="#acc7b4" stroke="#3a3a3a" stroke-width="0.8" stroke-opacity="0.8"/>
<rect x="556.74" y="171.60" width="4.97" height="22.20" fill="#acc7b4" stroke="#3a3a3a" stroke-width="0.8" stroke-opacity="0.8"/>
<rect x="561.72" y="177.60" width="4.97" height="16.20" fill="#acc7b4" stroke="#3a3a3a" stroke-width="0.8" stroke-opacity="0.8"/>
<rect x="566.69" y="184.40" width="4.97" height="9.40" fill="#acc7b4" stroke="#3a3a3a" stroke-width="0.8" stroke-opacity="0.8"/>
<rect x="571.66" y="168.80" width="4.97" height="25.00" fill="#acc7b4" stroke="#3a3a3a" stroke-width="0.8" stroke-opacity="0.8"/>
<rect x="576.63" y="168.80" width="4.97" height="25.00" fill="#acc7b4" stroke="#3a3a3a" stroke-width="0.8" stroke-opacity="0.8"/>
<rect x="581.60" y="156.50" width="4.97" height="37.30" fill="#acc7b4" stroke="#3a3a3a" stroke-width="0.8" stroke-opacity="0.8"/>
<rect x="586.58" y="157.60" width="4.97" height="36.20" fill="#acc7b4" stroke="#3a3a3a" stroke-width="0.8" stroke-opacity="0.8"/>
<rect x="591.55" y="150.60" width="4.97" height="43.20" fill="#acc7b4" stroke="#3a3a3a" stroke-width="0.8" stroke-opacity="0.8"/>
<rect x="596.52" y="143.90" width="4.97" height="49.90" fill="#acc7b4" stroke="#3a3a3a" stroke-width="0.8" stroke-opacity="0.8"/>
<rect x="601.49" y="127.00" width="4.97" height="66.80" fill="#acc7b4" stroke="#3a3a3a" stroke-width="0.8" stroke-opacity="0.8"/>
<rect x="606.46" y="158.70" width="4.97" height="35.10" fill="#acc7b4" stroke="#3a3a3a" stroke-width="0.8" stroke-opacity="0.8"/>
<rect x="611.44" y="166.00" width="4.97" height="27.80" fill="#acc7b4" stroke="#3a3a3a" stroke-width="0.8" stroke-opacity="0.8"/>
<rect x="616.41" y="168.80" width="4.97" height="25.00" fill="#acc7b4" stroke="#3a3a3a" stroke-width="0.8" stroke-opacity="0.8"/>
<rect x="621.38" y="191.30" width="4.97" height="2.50" fill="#acc7b4" stroke="#3a3a3a" stroke-width="0.8" stroke-opacity="0.8"/>
<rect x="626.35" y="191.30" width="4.97" height="2.50" fill="#acc7b4" stroke="#3a3a3a" stroke-width="0.8" stroke-opacity="0.8"/>
<rect x="631.32" y="192.20" width="4.97" height="1.60" fill="#acc7b4" stroke="#3a3a3a" stroke-width="0.8" stroke-opacity="0.8"/>
<rect x="636.30" y="192.20" width="4.97" height="1.60" fill="#acc7b4" stroke="#3a3a3a" stroke-width="0.8" stroke-opacity="0.8"/>
<rect x="641.27" y="192.20" width="4.97" height="1.60" fill="#acc7b4" stroke="#3a3a3a" stroke-width="0.8" stroke-opacity="0.8"/>
<rect x="651.21" y="192.00" width="4.97" height="1.80" fill="#acc7b4" stroke="#3a3a3a" stroke-width="0.8" stroke-opacity="0.8"/>
<rect x="656.18" y="192.00" width="4.97" height="1.80" fill="#acc7b4" stroke="#3a3a3a" stroke-width="0.8" stroke-opacity="0.8"/>
<rect x="581.60" y="192.60" width="4.97" height="1.20" fill="#e45534" stroke="#3a3a3a" stroke-width="0.8" fill-opacity="0.6" stroke-opacity="0.8"/>
<rect x="586.58" y="191.60" width="4.97" height="2.20" fill="#e45534" stroke="#3a3a3a" stroke-width="0.8" fill-opacity="0.6" stroke-opacity="0.8"/>
<rect x="591.55" y="181.60" width="4.97" height="12.20" fill="#e45534" stroke="#3a3a3a" stroke-width="0.8" fill-opacity="0.6" stroke-opacity="0.8"/>
<rect x="596.52" y="158.80" width="4.97" height="35.00" fill="#e45534" stroke="#3a3a3a" stroke-width="0.8" fill-opacity="0.6" stroke-opacity="0.8"/>
<rect x="601.49" y="91.00" width="4.97" height="102.80" fill="#e45534" stroke="#3a3a3a" stroke-width="0.8" fill-opacity="0.6" stroke-opacity="0.8"/>
<rect x="606.46" y="20.00" width="4.97" height="173.80" fill="#e45534" stroke="#3a3a3a" stroke-width="0.8" fill-opacity="0.6" stroke-opacity="0.8"/>
<rect x="611.44" y="113.00" width="4.97" height="80.80" fill="#e45534" stroke="#3a3a3a" stroke-width="0.8" fill-opacity="0.6" stroke-opacity="0.8"/>
<rect x="616.41" y="173.50" width="4.97" height="20.30" fill="#e45534" stroke="#3a3a3a" stroke-width="0.8" fill-opacity="0.6" stroke-opacity="0.8"/>
<rect x="621.38" y="187.20" width="4.97" height="6.60" fill="#e45534" stroke="#3a3a3a" stroke-width="0.8" fill-opacity="0.6" stroke-opacity="0.8"/>
<rect x="626.35" y="192.00" width="4.97" height="1.80" fill="#e45534" stroke="#3a3a3a" stroke-width="0.8" fill-opacity="0.6" stroke-opacity="0.8"/>
<rect x="631.32" y="192.40" width="4.97" height="1.40" fill="#e45534" stroke="#3a3a3a" stroke-width="0.8" fill-opacity="0.6" stroke-opacity="0.8"/>
</g>
<rect x="422.5" y="28.5" width="248.60000000000002" height="165.3" fill="none" stroke="#000" stroke-width="1.2"/>
<line x1="438.04" y1="193.80" x2="438.04" y2="190.80" stroke="#000" stroke-width="1.1" />
<line x1="438.04" y1="28.50" x2="438.04" y2="31.50" stroke="#000" stroke-width="1.1" />
<line x1="453.57" y1="193.80" x2="453.57" y2="190.80" stroke="#000" stroke-width="1.1" />
<line x1="453.57" y1="28.50" x2="453.57" y2="31.50" stroke="#000" stroke-width="1.1" />
<line x1="469.11" y1="193.80" x2="469.11" y2="190.80" stroke="#000" stroke-width="1.1" />
<line x1="469.11" y1="28.50" x2="469.11" y2="31.50" stroke="#000" stroke-width="1.1" />
<line x1="484.65" y1="193.80" x2="484.65" y2="188.80" stroke="#000" stroke-width="1.1" />
<line x1="484.65" y1="28.50" x2="484.65" y2="33.50" stroke="#000" stroke-width="1.1" />
<line x1="500.19" y1="193.80" x2="500.19" y2="190.80" stroke="#000" stroke-width="1.1" />
<line x1="500.19" y1="28.50" x2="500.19" y2="31.50" stroke="#000" stroke-width="1.1" />
<line x1="515.73" y1="193.80" x2="515.73" y2="190.80" stroke="#000" stroke-width="1.1" />
<line x1="515.73" y1="28.50" x2="515.73" y2="31.50" stroke="#000" stroke-width="1.1" />
<line x1="531.26" y1="193.80" x2="531.26" y2="190.80" stroke="#000" stroke-width="1.1" />
<line x1="531.26" y1="28.50" x2="531.26" y2="31.50" stroke="#000" stroke-width="1.1" />
<line x1="546.80" y1="193.80" x2="546.80" y2="188.80" stroke="#000" stroke-width="1.1" />
<line x1="546.80" y1="28.50" x2="546.80" y2="33.50" stroke="#000" stroke-width="1.1" />
<line x1="562.34" y1="193.80" x2="562.34" y2="190.80" stroke="#000" stroke-width="1.1" />
<line x1="562.34" y1="28.50" x2="562.34" y2="31.50" stroke="#000" stroke-width="1.1" />
<line x1="577.88" y1="193.80" x2="577.88" y2="190.80" stroke="#000" stroke-width="1.1" />
<line x1="577.88" y1="28.50" x2="577.88" y2="31.50" stroke="#000" stroke-width="1.1" />
<line x1="593.41" y1="193.80" x2="593.41" y2="190.80" stroke="#000" stroke-width="1.1" />
<line x1="593.41" y1="28.50" x2="593.41" y2="31.50" stroke="#000" stroke-width="1.1" />
<line x1="608.95" y1="193.80" x2="608.95" y2="188.80" stroke="#000" stroke-width="1.1" />
<line x1="608.95" y1="28.50" x2="608.95" y2="33.50" stroke="#000" stroke-width="1.1" />
<line x1="624.49" y1="193.80" x2="624.49" y2="190.80" stroke="#000" stroke-width="1.1" />
<line x1="624.49" y1="28.50" x2="624.49" y2="31.50" stroke="#000" stroke-width="1.1" />
<line x1="640.03" y1="193.80" x2="640.03" y2="190.80" stroke="#000" stroke-width="1.1" />
<line x1="640.03" y1="28.50" x2="640.03" y2="31.50" stroke="#000" stroke-width="1.1" />
<line x1="655.56" y1="193.80" x2="655.56" y2="190.80" stroke="#000" stroke-width="1.1" />
<line x1="655.56" y1="28.50" x2="655.56" y2="31.50" stroke="#000" stroke-width="1.1" />
<line x1="422.50" y1="185.54" x2="425.10" y2="185.54" stroke="#000" stroke-width="1.1" />
<line x1="671.10" y1="185.54" x2="668.50" y2="185.54" stroke="#000" stroke-width="1.1" />
<line x1="422.50" y1="177.27" x2="425.10" y2="177.27" stroke="#000" stroke-width="1.1" />
<line x1="671.10" y1="177.27" x2="668.50" y2="177.27" stroke="#000" stroke-width="1.1" />
<line x1="422.50" y1="169.00" x2="425.10" y2="169.00" stroke="#000" stroke-width="1.1" />
<line x1="671.10" y1="169.00" x2="668.50" y2="169.00" stroke="#000" stroke-width="1.1" />
<line x1="422.50" y1="160.74" x2="425.10" y2="160.74" stroke="#000" stroke-width="1.1" />
<line x1="671.10" y1="160.74" x2="668.50" y2="160.74" stroke="#000" stroke-width="1.1" />
<line x1="422.50" y1="152.48" x2="427.50" y2="152.48" stroke="#000" stroke-width="1.1" />
<line x1="671.10" y1="152.48" x2="666.10" y2="152.48" stroke="#000" stroke-width="1.1" />
<line x1="422.50" y1="144.21" x2="425.10" y2="144.21" stroke="#000" stroke-width="1.1" />
<line x1="671.10" y1="144.21" x2="668.50" y2="144.21" stroke="#000" stroke-width="1.1" />
<line x1="422.50" y1="135.94" x2="425.10" y2="135.94" stroke="#000" stroke-width="1.1" />
<line x1="671.10" y1="135.94" x2="668.50" y2="135.94" stroke="#000" stroke-width="1.1" />
<line x1="422.50" y1="127.68" x2="425.10" y2="127.68" stroke="#000" stroke-width="1.1" />
<line x1="671.10" y1="127.68" x2="668.50" y2="127.68" stroke="#000" stroke-width="1.1" />
<line x1="422.50" y1="119.42" x2="425.10" y2="119.42" stroke="#000" stroke-width="1.1" />
<line x1="671.10" y1="119.42" x2="668.50" y2="119.42" stroke="#000" stroke-width="1.1" />
<line x1="422.50" y1="111.15" x2="427.50" y2="111.15" stroke="#000" stroke-width="1.1" />
<line x1="671.10" y1="111.15" x2="666.10" y2="111.15" stroke="#000" stroke-width="1.1" />
<line x1="422.50" y1="102.88" x2="425.10" y2="102.88" stroke="#000" stroke-width="1.1" />
<line x1="671.10" y1="102.88" x2="668.50" y2="102.88" stroke="#000" stroke-width="1.1" />
<line x1="422.50" y1="94.62" x2="425.10" y2="94.62" stroke="#000" stroke-width="1.1" />
<line x1="671.10" y1="94.62" x2="668.50" y2="94.62" stroke="#000" stroke-width="1.1" />
<line x1="422.50" y1="86.36" x2="425.10" y2="86.36" stroke="#000" stroke-width="1.1" />
<line x1="671.10" y1="86.36" x2="668.50" y2="86.36" stroke="#000" stroke-width="1.1" />
<line x1="422.50" y1="78.09" x2="425.10" y2="78.09" stroke="#000" stroke-width="1.1" />
<line x1="671.10" y1="78.09" x2="668.50" y2="78.09" stroke="#000" stroke-width="1.1" />
<line x1="422.50" y1="69.83" x2="427.50" y2="69.83" stroke="#000" stroke-width="1.1" />
<line x1="671.10" y1="69.83" x2="666.10" y2="69.83" stroke="#000" stroke-width="1.1" />
<line x1="422.50" y1="61.56" x2="425.10" y2="61.56" stroke="#000" stroke-width="1.1" />
<line x1="671.10" y1="61.56" x2="668.50" y2="61.56" stroke="#000" stroke-width="1.1" />
<line x1="422.50" y1="53.29" x2="425.10" y2="53.29" stroke="#000" stroke-width="1.1" />
<line x1="671.10" y1="53.29" x2="668.50" y2="53.29" stroke="#000" stroke-width="1.1" />
<line x1="422.50" y1="45.03" x2="425.10" y2="45.03" stroke="#000" stroke-width="1.1" />
<line x1="671.10" y1="45.03" x2="668.50" y2="45.03" stroke="#000" stroke-width="1.1" />
<line x1="422.50" y1="36.76" x2="425.10" y2="36.76" stroke="#000" stroke-width="1.1" />
<line x1="671.10" y1="36.76" x2="668.50" y2="36.76" stroke="#000" stroke-width="1.1" />
<text x="416.40" y="199.60" font-size="16" text-anchor="end" font-weight="normal" fill="#000" >0.0</text>
<text x="416.40" y="158.28" font-size="16" text-anchor="end" font-weight="normal" fill="#000" >0.5</text>
<text x="416.40" y="116.95" font-size="16" text-anchor="end" font-weight="normal" fill="#000" >1.0</text>
<text x="416.40" y="75.62" font-size="16" text-anchor="end" font-weight="normal" fill="#000" >1.5</text>
<text x="416.40" y="34.30" font-size="16" text-anchor="end" font-weight="normal" fill="#000" >2.0</text>
<text x="422.50" y="211.50" font-size="16" text-anchor="middle" font-weight="normal" fill="#000" >-6.0</text>
<text x="484.65" y="211.50" font-size="16" text-anchor="middle" font-weight="normal" fill="#000" >-4.0</text>
<text x="546.80" y="211.50" font-size="16" text-anchor="middle" font-weight="normal" fill="#000" >-2.0</text>
<text x="608.95" y="211.50" font-size="16" text-anchor="middle" font-weight="normal" fill="#000" >0.0</text>
<text x="671.10" y="211.50" font-size="16" text-anchor="middle" font-weight="normal" fill="#000" >2.0</text>
<text x="546.80" y="233.70" font-size="16.4" text-anchor="middle" font-weight="normal" fill="#000" >Enthalpy difference (eV/atom)</text>
<text x="383.60" y="111.00" font-size="16.3" text-anchor="middle" font-weight="normal" fill="#000" transform="rotate(-90 383.6 111.0)">Frequency density</text>
<clipPath id="cp_c"><rect x="55.5" y="281.3" width="248.8" height="165.2"/></clipPath>
<g clip-path="url(#cp_c)">
<path d="M53.50,300.00 C54.92,302.67 59.25,310.67 62.00,316.00 C64.75,321.33 67.00,327.17 70.00,332.00 C73.00,336.83 75.00,339.27 80.00,345.00 C85.00,350.73 91.02,360.28 100.00,366.40 C108.98,372.52 127.20,377.93 133.90,381.70 C140.60,385.47 135.98,386.45 140.20,389.00 C144.42,391.55 152.38,394.70 159.20,397.00 C166.02,399.30 173.80,400.73 181.10,402.80 C188.40,404.87 194.85,407.08 203.00,409.40 C211.15,411.72 218.93,413.98 230.00,416.70 C241.07,419.42 256.68,422.48 269.40,425.70 C282.12,428.92 300.15,434.28 306.30,436.00 L304.3,448.5 L53.5,448.5 Z" fill="#faf5ee" />
<path d="M53.5,277.3 L104.5,277.3 C104.58,277.97 104.50,277.85 105.00,281.30 C105.50,284.75 106.67,292.55 107.50,298.00 C108.33,303.45 108.83,308.50 110.00,314.00 C111.17,319.50 112.83,325.33 114.50,331.00 C116.17,336.67 118.25,343.17 120.00,348.00 C121.75,352.83 123.33,356.08 125.00,360.00 C126.67,363.92 128.20,367.40 130.00,371.50 C131.80,375.60 134.10,381.68 135.80,384.60 C137.50,387.52 138.33,387.60 140.20,389.00 C142.07,390.40 144.53,391.67 147.00,393.00 C149.47,394.33 153.67,396.33 155.00,397.00 L160,448.5 L53.5,448.5 Z" fill="#efefef"/>
<path d="M53.50,290.00 C54.73,291.67 59.38,295.55 60.90,300.00 C62.42,304.45 61.42,311.70 62.60,316.70 C63.78,321.70 65.35,326.32 68.00,330.00 C70.65,333.68 74.83,335.47 78.50,338.80 C82.17,342.13 85.75,346.80 90.00,350.00 C94.25,353.20 99.00,355.00 104.00,358.00 C109.00,361.00 115.67,364.67 120.00,368.00 C124.33,371.33 125.90,374.02 130.00,378.00 C134.10,381.98 139.73,388.37 144.60,391.90 C149.47,395.43 154.33,397.02 159.20,399.20 C164.07,401.38 169.42,402.70 173.80,405.00 C178.18,407.30 179.47,410.33 185.50,413.00 C191.53,415.67 199.45,418.17 210.00,421.00 C220.55,423.83 232.75,427.25 248.80,430.00 C264.85,432.75 296.72,436.25 306.30,437.50 L304.3,448.5 L53.5,448.5 Z" fill="#ebeae3" />
<path d="M53.50,330.00 C54.92,331.33 58.42,334.67 62.00,338.00 C65.58,341.33 70.33,346.00 75.00,350.00 C79.67,354.00 85.17,358.33 90.00,362.00 C94.83,365.67 99.00,368.72 104.00,372.00 C109.00,375.28 115.00,379.03 120.00,381.70 C125.00,384.37 129.90,385.87 134.00,388.00 C138.10,390.13 140.40,392.25 144.60,394.50 C148.80,396.75 154.33,399.42 159.20,401.50 C164.07,403.58 169.42,404.83 173.80,407.00 C178.18,409.17 181.85,412.17 185.50,414.50 C189.15,416.83 191.57,419.00 195.70,421.00 C199.83,423.00 204.58,424.92 210.30,426.50 C216.02,428.08 220.05,429.00 230.00,430.50 C239.95,432.00 257.28,433.92 270.00,435.50 C282.72,437.08 300.25,439.25 306.30,440.00 L304.3,448.5 L53.5,448.5 Z" fill="#f2e3d8" />
<path d="M53.50,279.30 C54.50,279.30 58.27,271.02 59.50,279.30 C60.73,287.58 60.18,319.08 60.90,329.00 C61.62,338.92 62.50,335.97 63.80,338.80 C65.10,341.63 66.83,343.30 68.70,346.00 C70.57,348.70 72.28,351.83 75.00,355.00 C77.72,358.17 81.25,361.30 85.00,365.00 C88.75,368.70 93.55,373.67 97.50,377.20 C101.45,380.73 104.95,383.20 108.70,386.20 C112.45,389.20 115.68,392.57 120.00,395.20 C124.32,397.83 130.50,399.53 134.60,402.00 C138.70,404.47 140.37,407.50 144.60,410.00 C148.83,412.50 153.93,414.67 160.00,417.00 C166.07,419.33 173.83,421.92 181.00,424.00 C188.17,426.08 194.83,428.03 203.00,429.50 C211.17,430.97 218.83,431.55 230.00,432.80 C241.17,434.05 257.28,435.47 270.00,437.00 C282.72,438.53 300.25,441.17 306.30,442.00 L304.3,448.5 L53.5,448.5 Z" fill="#e0d7ce" />
<polygon points="59.5,279.3 62.0,279.3 62.3,300.0 61.5,320.0 60.9,329.0" fill="#eceae5" />
<polygon points="53.5,400.0 57.3,400.0 58.5,448.5 53.5,448.5" fill="#efe5df" />
<path d="M79.60,270.00 C79.78,271.88 80.25,275.47 80.70,281.30 C81.15,287.13 81.77,296.88 82.30,305.00 C82.83,313.12 83.20,323.67 83.90,330.00 C84.60,336.33 85.60,338.92 86.50,343.00 C87.40,347.08 88.33,350.50 89.30,354.50 C90.27,358.50 91.28,362.92 92.30,367.00 C93.32,371.08 94.12,374.83 95.40,379.00 C96.68,383.17 98.17,387.52 100.00,392.00 C101.83,396.48 104.40,402.15 106.40,405.90 C108.40,409.65 109.95,411.85 112.00,414.50 C114.05,417.15 116.70,419.63 118.70,421.80 C120.70,423.97 121.97,425.87 124.00,427.50 C126.03,429.13 128.23,430.43 130.90,431.60 C133.57,432.77 136.32,433.68 140.00,434.50 C143.68,435.32 147.17,435.75 153.00,436.50 C158.83,437.25 167.17,438.17 175.00,439.00 C182.83,439.83 187.50,440.70 200.00,441.50 C212.50,442.30 232.50,443.18 250.00,443.80 C267.50,444.42 295.83,444.97 305.00,445.20" fill="none" stroke="#666" stroke-width="2.6" stroke-linejoin="round" />
<path d="M57.30,333.00 C57.50,335.00 58.05,340.50 58.50,345.00 C58.95,349.50 59.57,354.33 60.00,360.00 C60.43,365.67 60.43,373.50 61.10,379.00 C61.77,384.50 62.57,388.75 64.00,393.00 C65.43,397.25 67.87,401.70 69.70,404.50 C71.53,407.30 72.25,407.42 75.00,409.80 C77.75,412.18 82.45,416.55 86.20,418.80 C89.95,421.05 93.75,422.00 97.50,423.30 C101.25,424.60 104.95,425.48 108.70,426.60 C112.45,427.72 115.68,429.07 120.00,430.00 C124.32,430.93 129.60,431.53 134.60,432.20 C139.60,432.87 143.27,433.40 150.00,434.00 C156.73,434.60 165.10,435.00 175.00,435.80 C184.90,436.60 197.10,437.80 209.40,438.80 C221.70,439.80 232.87,440.82 248.80,441.80 C264.73,442.78 295.63,444.22 305.00,444.70" fill="none" stroke="#ecc25e" stroke-width="2.6" stroke-linejoin="round" stroke-dasharray="9 4"/>
<path d="M56.80,345.00 C57.08,346.83 57.97,351.83 58.50,356.00 C59.03,360.17 59.37,364.95 60.00,370.00 C60.63,375.05 61.38,381.30 62.30,386.30 C63.22,391.30 64.27,395.92 65.50,400.00 C66.73,404.08 68.28,408.13 69.70,410.80 C71.12,413.47 72.37,414.37 74.00,416.00 C75.63,417.63 76.83,418.93 79.50,420.60 C82.17,422.27 85.92,424.37 90.00,426.00 C94.08,427.63 97.58,428.85 104.00,430.40 C110.42,431.95 120.83,434.03 128.50,435.30 C136.17,436.57 142.25,437.18 150.00,438.00 C157.75,438.82 161.82,439.23 175.00,440.20 C188.18,441.17 207.43,442.88 229.10,443.80 C250.77,444.72 292.35,445.38 305.00,445.70" fill="none" stroke="#e8654a" stroke-width="2.6" stroke-linejoin="round" stroke-dasharray="7.3 2.9 2 2.9 2 2.9"/>
<path d="M58.30,308.00 C58.35,311.67 58.32,324.67 58.60,330.00 C58.88,335.33 59.60,335.67 60.00,340.00 C60.40,344.33 60.58,351.00 61.00,356.00 C61.42,361.00 61.92,365.17 62.50,370.00 C63.08,374.83 63.72,380.65 64.50,385.00 C65.28,389.35 65.95,392.43 67.20,396.10 C68.45,399.77 69.95,403.73 72.00,407.00 C74.05,410.27 76.50,413.28 79.50,415.70 C82.50,418.12 85.92,419.67 90.00,421.50 C94.08,423.33 99.83,425.20 104.00,426.70 C108.17,428.20 110.92,429.27 115.00,430.50 C119.08,431.73 122.67,432.85 128.50,434.10 C134.33,435.35 142.25,436.90 150.00,438.00 C157.75,439.10 165.10,439.73 175.00,440.70 C184.90,441.67 197.10,443.07 209.40,443.80 C221.70,444.53 232.87,444.73 248.80,445.10 C264.73,445.47 295.63,445.85 305.00,446.00" fill="none" stroke="#1d7373" stroke-width="2.6" stroke-linejoin="round" stroke-dasharray="2.5 4.1"/>
</g>
<rect x="55.5" y="281.3" width="248.8" height="165.2" fill="none" stroke="#000" stroke-width="1.2"/>
<line x1="71.05" y1="446.50" x2="71.05" y2="443.50" stroke="#000" stroke-width="1.1" />
<line x1="71.05" y1="281.30" x2="71.05" y2="284.30" stroke="#000" stroke-width="1.1" />
<line x1="86.60" y1="446.50" x2="86.60" y2="443.50" stroke="#000" stroke-width="1.1" />
<line x1="86.60" y1="281.30" x2="86.60" y2="284.30" stroke="#000" stroke-width="1.1" />
<line x1="102.15" y1="446.50" x2="102.15" y2="443.50" stroke="#000" stroke-width="1.1" />
<line x1="102.15" y1="281.30" x2="102.15" y2="284.30" stroke="#000" stroke-width="1.1" />
<line x1="117.70" y1="446.50" x2="117.70" y2="441.50" stroke="#000" stroke-width="1.1" />
<line x1="117.70" y1="281.30" x2="117.70" y2="286.30" stroke="#000" stroke-width="1.1" />
<line x1="133.25" y1="446.50" x2="133.25" y2="443.50" stroke="#000" stroke-width="1.1" />
<line x1="133.25" y1="281.30" x2="133.25" y2="284.30" stroke="#000" stroke-width="1.1" />
<line x1="148.80" y1="446.50" x2="148.80" y2="443.50" stroke="#000" stroke-width="1.1" />
<line x1="148.80" y1="281.30" x2="148.80" y2="284.30" stroke="#000" stroke-width="1.1" />
<line x1="164.35" y1="446.50" x2="164.35" y2="443.50" stroke="#000" stroke-width="1.1" />
<line x1="164.35" y1="281.30" x2="164.35" y2="284.30" stroke="#000" stroke-width="1.1" />
<line x1="179.90" y1="446.50" x2="179.90" y2="441.50" stroke="#000" stroke-width="1.1" />
<line x1="179.90" y1="281.30" x2="179.90" y2="286.30" stroke="#000" stroke-width="1.1" />
<line x1="195.45" y1="446.50" x2="195.45" y2="443.50" stroke="#000" stroke-width="1.1" />
<line x1="195.45" y1="281.30" x2="195.45" y2="284.30" stroke="#000" stroke-width="1.1" />
<line x1="211.00" y1="446.50" x2="211.00" y2="443.50" stroke="#000" stroke-width="1.1" />
<line x1="211.00" y1="281.30" x2="211.00" y2="284.30" stroke="#000" stroke-width="1.1" />
<line x1="226.55" y1="446.50" x2="226.55" y2="443.50" stroke="#000" stroke-width="1.1" />
<line x1="226.55" y1="281.30" x2="226.55" y2="284.30" stroke="#000" stroke-width="1.1" />
<line x1="242.10" y1="446.50" x2="242.10" y2="441.50" stroke="#000" stroke-width="1.1" />
<line x1="242.10" y1="281.30" x2="242.10" y2="286.30" stroke="#000" stroke-width="1.1" />
<line x1="257.65" y1="446.50" x2="257.65" y2="443.50" stroke="#000" stroke-width="1.1" />
<line x1="257.65" y1="281.30" x2="257.65" y2="284.30" stroke="#000" stroke-width="1.1" />
<line x1="273.20" y1="446.50" x2="273.20" y2="443.50" stroke="#000" stroke-width="1.1" />
<line x1="273.20" y1="281.30" x2="273.20" y2="284.30" stroke="#000" stroke-width="1.1" />
<line x1="288.75" y1="446.50" x2="288.75" y2="443.50" stroke="#000" stroke-width="1.1" />
<line x1="288.75" y1="281.30" x2="288.75" y2="284.30" stroke="#000" stroke-width="1.1" />
<line x1="55.50" y1="438.24" x2="58.10" y2="438.24" stroke="#000" stroke-width="1.1" />
<line x1="304.30" y1="438.24" x2="301.70" y2="438.24" stroke="#000" stroke-width="1.1" />
<line x1="55.50" y1="429.98" x2="58.10" y2="429.98" stroke="#000" stroke-width="1.1" />
<line x1="304.30" y1="429.98" x2="301.70" y2="429.98" stroke="#000" stroke-width="1.1" />
<line x1="55.50" y1="421.72" x2="58.10" y2="421.72" stroke="#000" stroke-width="1.1" />
<line x1="304.30" y1="421.72" x2="301.70" y2="421.72" stroke="#000" stroke-width="1.1" />
<line x1="55.50" y1="413.46" x2="58.10" y2="413.46" stroke="#000" stroke-width="1.1" />
<line x1="304.30" y1="413.46" x2="301.70" y2="413.46" stroke="#000" stroke-width="1.1" />
<line x1="55.50" y1="405.20" x2="60.50" y2="405.20" stroke="#000" stroke-width="1.1" />
<line x1="304.30" y1="405.20" x2="299.30" y2="405.20" stroke="#000" stroke-width="1.1" />
<line x1="55.50" y1="396.94" x2="58.10" y2="396.94" stroke="#000" stroke-width="1.1" />
<line x1="304.30" y1="396.94" x2="301.70" y2="396.94" stroke="#000" stroke-width="1.1" />
<line x1="55.50" y1="388.68" x2="58.10" y2="388.68" stroke="#000" stroke-width="1.1" />
<line x1="304.30" y1="388.68" x2="301.70" y2="388.68" stroke="#000" stroke-width="1.1" />
<line x1="55.50" y1="380.42" x2="58.10" y2="380.42" stroke="#000" stroke-width="1.1" />
<line x1="304.30" y1="380.42" x2="301.70" y2="380.42" stroke="#000" stroke-width="1.1" />
<line x1="55.50" y1="372.16" x2="58.10" y2="372.16" stroke="#000" stroke-width="1.1" />
<line x1="304.30" y1="372.16" x2="301.70" y2="372.16" stroke="#000" stroke-width="1.1" />
<line x1="55.50" y1="363.90" x2="60.50" y2="363.90" stroke="#000" stroke-width="1.1" />
<line x1="304.30" y1="363.90" x2="299.30" y2="363.90" stroke="#000" stroke-width="1.1" />
<line x1="55.50" y1="355.64" x2="58.10" y2="355.64" stroke="#000" stroke-width="1.1" />
<line x1="304.30" y1="355.64" x2="301.70" y2="355.64" stroke="#000" stroke-width="1.1" />
<line x1="55.50" y1="347.38" x2="58.10" y2="347.38" stroke="#000" stroke-width="1.1" />
<line x1="304.30" y1="347.38" x2="301.70" y2="347.38" stroke="#000" stroke-width="1.1" />
<line x1="55.50" y1="339.12" x2="58.10" y2="339.12" stroke="#000" stroke-width="1.1" />
<line x1="304.30" y1="339.12" x2="301.70" y2="339.12" stroke="#000" stroke-width="1.1" />
<line x1="55.50" y1="330.86" x2="58.10" y2="330.86" stroke="#000" stroke-width="1.1" />
<line x1="304.30" y1="330.86" x2="301.70" y2="330.86" stroke="#000" stroke-width="1.1" />
<line x1="55.50" y1="322.60" x2="60.50" y2="322.60" stroke="#000" stroke-width="1.1" />
<line x1="304.30" y1="322.60" x2="299.30" y2="322.60" stroke="#000" stroke-width="1.1" />
<line x1="55.50" y1="314.34" x2="58.10" y2="314.34" stroke="#000" stroke-width="1.1" />
<line x1="304.30" y1="314.34" x2="301.70" y2="314.34" stroke="#000" stroke-width="1.1" />
<line x1="55.50" y1="306.08" x2="58.10" y2="306.08" stroke="#000" stroke-width="1.1" />
<line x1="304.30" y1="306.08" x2="301.70" y2="306.08" stroke="#000" stroke-width="1.1" />
<line x1="55.50" y1="297.82" x2="58.10" y2="297.82" stroke="#000" stroke-width="1.1" />
<line x1="304.30" y1="297.82" x2="301.70" y2="297.82" stroke="#000" stroke-width="1.1" />
<line x1="55.50" y1="289.56" x2="58.10" y2="289.56" stroke="#000" stroke-width="1.1" />
<line x1="304.30" y1="289.56" x2="301.70" y2="289.56" stroke="#000" stroke-width="1.1" />
<text x="49.40" y="452.30" font-size="16" text-anchor="end" font-weight="normal" fill="#000" >0</text>
<text x="49.40" y="411.00" font-size="16" text-anchor="end" font-weight="normal" fill="#000" >0.1</text>
<text x="49.40" y="369.70" font-size="16" text-anchor="end" font-weight="normal" fill="#000" >0.2</text>
<text x="49.40" y="328.40" font-size="16" text-anchor="end" font-weight="normal" fill="#000" >0.3</text>
<text x="49.40" y="287.10" font-size="16" text-anchor="end" font-weight="normal" fill="#000" >0.4</text>
<text x="55.50" y="464.20" font-size="16" text-anchor="middle" font-weight="normal" fill="#000" >0</text>
<text x="117.70" y="464.20" font-size="16" text-anchor="middle" font-weight="normal" fill="#000" >20</text>
<text x="179.90" y="464.20" font-size="16" text-anchor="middle" font-weight="normal" fill="#000" >40</text>
<text x="242.10" y="464.20" font-size="16" text-anchor="middle" font-weight="normal" fill="#000" >60</text>
<text x="304.30" y="464.20" font-size="16" text-anchor="middle" font-weight="normal" fill="#000" >80</text>
<text x="179.90" y="486.40" font-size="16.2" text-anchor="middle" font-weight="normal" fill="#000" >Step</text>
<text x="17.00" y="364.00" font-size="16.45" text-anchor="middle" font-weight="normal" fill="#000" transform="rotate(-90 17.0 364.0)">avg./std. of ΔE (eV/atom)</text>
<line x1="109.50" y1="306.40" x2="138.60" y2="306.40" stroke="#6b6b6b" stroke-width="2.8" />
<line x1="110.50" y1="325.50" x2="138.60" y2="325.50" stroke="#1d7373" stroke-width="2.6" stroke-dasharray="2.5 4.1"/>
<line x1="110.90" y1="344.60" x2="138.60" y2="344.60" stroke="#ecc25e" stroke-width="2.6" stroke-dasharray="9 4"/>
<line x1="110.90" y1="363.40" x2="138.60" y2="363.40" stroke="#e8654a" stroke-width="2.6" stroke-dasharray="7.3 2.9 2 2.9 2 2.9"/>
<text x="148.00" y="310.80" font-size="13.05" text-anchor="start" font-weight="normal" fill="#000" >Cond-CDVAE (S=5000)</text>
<text x="148.00" y="329.90" font-size="13.05" text-anchor="start" font-weight="normal" fill="#000" >CrystalFlow (S=100)</text>
<text x="148.00" y="349.00" font-size="13.05" text-anchor="start" font-weight="normal" fill="#000" >CrystalFlow (S=1000)</text>
<text x="148.00" y="367.80" font-size="13.05" text-anchor="start" font-weight="normal" fill="#000" >CrystalFlow (S=5000)</text>
<clipPath id="cp_d"><rect x="422.4" y="281.3" width="248.80000000000007" height="164.89999999999998"/></clipPath>
<rect x="435.30" y="288.20" width="26.40" height="9.30" fill="#838383" stroke="#222" stroke-width="0.9" />
<rect x="435.30" y="306.90" width="26.40" height="9.50" fill="#67bcaa" stroke="#444" stroke-width="0.9" />
<text x="472.50" y="297.60" font-size="13" text-anchor="start" font-weight="normal" fill="#000" >Cond-CDVAE (S=5000)</text>
<text x="472.50" y="316.50" font-size="13" text-anchor="start" font-weight="normal" fill="#000" >CrystalFlow (S=100)</text>
<text x="667.30" y="346.60" font-size="13" text-anchor="end" font-weight="normal" fill="#000" >(before optimization)</text>
<text x="665.30" y="429.70" font-size="13" text-anchor="end" font-weight="normal" fill="#000" >(after optimization)</text>
<g clip-path="url(#cp_d)">
<rect x="480.57" y="362.20" width="7.27" height="1.60" fill="#838383" stroke="#222" stroke-width="0.8" />
<rect x="495.11" y="362.20" width="7.27" height="1.60" fill="#838383" stroke="#222" stroke-width="0.8" />
<rect x="509.65" y="357.00" width="7.27" height="6.80" fill="#838383" stroke="#222" stroke-width="0.8" />
<rect x="516.92" y="359.00" width="7.27" height="4.80" fill="#838383" stroke="#222" stroke-width="0.8" />
<rect x="524.19" y="355.00" width="7.27" height="8.80" fill="#838383" stroke="#222" stroke-width="0.8" />
<rect x="531.46" y="350.10" width="7.27" height="13.70" fill="#838383" stroke="#222" stroke-width="0.8" />
<rect x="538.73" y="356.20" width="7.27" height="7.60" fill="#838383" stroke="#222" stroke-width="0.8" />
<rect x="546.00" y="357.60" width="7.27" height="6.20" fill="#838383" stroke="#222" stroke-width="0.8" />
<rect x="553.27" y="353.20" width="7.27" height="10.60" fill="#838383" stroke="#222" stroke-width="0.8" />
<rect x="560.54" y="351.30" width="7.27" height="12.50" fill="#838383" stroke="#222" stroke-width="0.8" />
<rect x="567.81" y="352.30" width="7.27" height="11.50" fill="#838383" stroke="#222" stroke-width="0.8" />
<rect x="575.08" y="355.10" width="7.27" height="8.70" fill="#838383" stroke="#222" stroke-width="0.8" />
<rect x="582.35" y="354.70" width="7.27" height="9.10" fill="#838383" stroke="#222" stroke-width="0.8" />
<rect x="589.62" y="354.70" width="7.27" height="9.10" fill="#838383" stroke="#222" stroke-width="0.8" />
<rect x="596.89" y="358.50" width="7.27" height="5.30" fill="#838383" stroke="#222" stroke-width="0.8" />
<rect x="604.16" y="355.50" width="7.27" height="8.30" fill="#838383" stroke="#222" stroke-width="0.8" />
<rect x="611.43" y="360.20" width="7.27" height="3.60" fill="#838383" stroke="#222" stroke-width="0.8" />
<rect x="618.70" y="361.40" width="7.27" height="2.40" fill="#838383" stroke="#222" stroke-width="0.8" />
<rect x="625.97" y="359.10" width="7.27" height="4.70" fill="#838383" stroke="#222" stroke-width="0.8" />
<rect x="633.24" y="360.20" width="7.27" height="3.60" fill="#838383" stroke="#222" stroke-width="0.8" />
<rect x="640.51" y="361.40" width="7.27" height="2.40" fill="#838383" stroke="#222" stroke-width="0.8" />
<rect x="647.78" y="359.10" width="7.27" height="4.70" fill="#838383" stroke="#222" stroke-width="0.8" />
<rect x="655.05" y="360.20" width="7.27" height="3.60" fill="#838383" stroke="#222" stroke-width="0.8" />
<rect x="662.32" y="363.00" width="7.27" height="0.80" fill="#838383" stroke="#222" stroke-width="0.8" />
<rect x="669.59" y="360.80" width="7.27" height="3.00" fill="#838383" stroke="#222" stroke-width="0.8" />
<rect x="473.30" y="354.40" width="7.27" height="9.40" fill="#26a58c" stroke="#333" stroke-width="0.8" fill-opacity="0.7"/>
<rect x="480.57" y="341.50" width="7.27" height="22.30" fill="#26a58c" stroke="#333" stroke-width="0.8" fill-opacity="0.7"/>
<rect x="487.84" y="350.10" width="7.27" height="13.70" fill="#26a58c" stroke="#333" stroke-width="0.8" fill-opacity="0.7"/>
<rect x="495.11" y="355.30" width="7.27" height="8.50" fill="#26a58c" stroke="#333" stroke-width="0.8" fill-opacity="0.7"/>
<rect x="502.38" y="348.40" width="7.27" height="15.40" fill="#26a58c" stroke="#333" stroke-width="0.8" fill-opacity="0.7"/>
<rect x="509.65" y="344.40" width="7.27" height="19.40" fill="#26a58c" stroke="#333" stroke-width="0.8" fill-opacity="0.7"/>
<rect x="516.92" y="323.40" width="7.27" height="40.40" fill="#26a58c" stroke="#333" stroke-width="0.8" fill-opacity="0.7"/>
<rect x="524.19" y="350.10" width="7.27" height="13.70" fill="#26a58c" stroke="#333" stroke-width="0.8" fill-opacity="0.7"/>
<rect x="531.46" y="358.00" width="7.27" height="5.80" fill="#26a58c" stroke="#333" stroke-width="0.8" fill-opacity="0.7"/>
<rect x="538.73" y="361.60" width="7.27" height="2.20" fill="#26a58c" stroke="#333" stroke-width="0.8" fill-opacity="0.7"/>
<rect x="567.81" y="361.40" width="7.27" height="2.40" fill="#26a58c" stroke="#333" stroke-width="0.8" fill-opacity="0.7"/>
<rect x="575.08" y="360.80" width="7.27" height="3.00" fill="#26a58c" stroke="#333" stroke-width="0.8" fill-opacity="0.7"/>
<rect x="582.35" y="360.80" width="7.27" height="3.00" fill="#26a58c" stroke="#333" stroke-width="0.8" fill-opacity="0.7"/>
<rect x="466.00" y="441.00" width="7.25" height="5.20" fill="#838383" stroke="#222" stroke-width="0.8" />
<rect x="473.25" y="397.00" width="7.25" height="49.20" fill="#838383" stroke="#222" stroke-width="0.8" />
<rect x="480.50" y="419.00" width="7.25" height="27.20" fill="#838383" stroke="#222" stroke-width="0.8" />
<rect x="487.75" y="407.20" width="7.25" height="39.00" fill="#838383" stroke="#222" stroke-width="0.8" />
<rect x="495.00" y="431.30" width="7.25" height="14.90" fill="#838383" stroke="#222" stroke-width="0.8" />
<rect x="502.25" y="440.20" width="7.25" height="6.00" fill="#838383" stroke="#222" stroke-width="0.8" />
<rect x="516.75" y="442.40" width="7.25" height="3.80" fill="#838383" stroke="#222" stroke-width="0.8" />
<rect x="524.00" y="445.20" width="7.25" height="1.00" fill="#838383" stroke="#222" stroke-width="0.8" />
<rect x="545.75" y="440.70" width="7.25" height="5.50" fill="#838383" stroke="#222" stroke-width="0.8" />
<rect x="553.00" y="445.20" width="7.25" height="1.00" fill="#838383" stroke="#222" stroke-width="0.8" />
<rect x="466.00" y="410.50" width="7.25" height="35.70" fill="#26a58c" stroke="#333" stroke-width="0.8" fill-opacity="0.7"/>
<rect x="473.25" y="427.50" width="7.25" height="18.70" fill="#26a58c" stroke="#333" stroke-width="0.8" fill-opacity="0.7"/>
<rect x="480.50" y="436.60" width="7.25" height="9.60" fill="#26a58c" stroke="#333" stroke-width="0.8" fill-opacity="0.7"/>
<rect x="487.75" y="434.50" width="7.25" height="11.70" fill="#26a58c" stroke="#333" stroke-width="0.8" fill-opacity="0.7"/>
<rect x="495.00" y="377.40" width="7.25" height="68.80" fill="#26a58c" stroke="#333" stroke-width="0.8" fill-opacity="0.7"/>
<rect x="502.25" y="433.40" width="7.25" height="12.80" fill="#26a58c" stroke="#333" stroke-width="0.8" fill-opacity="0.7"/>
<rect x="509.50" y="444.30" width="7.25" height="1.90" fill="#26a58c" stroke="#333" stroke-width="0.8" fill-opacity="0.7"/>
<rect x="516.75" y="444.30" width="7.25" height="1.90" fill="#26a58c" stroke="#333" stroke-width="0.8" fill-opacity="0.7"/>
</g>
<rect x="422.4" y="281.3" width="248.80000000000007" height="164.89999999999998" fill="none" stroke="#000" stroke-width="1.2"/>
<line x1="422.40" y1="363.80" x2="671.20" y2="363.80" stroke="#333" stroke-width="1.6" />
<line x1="438.99" y1="446.20" x2="438.99" y2="443.20" stroke="#000" stroke-width="1.1" />
<line x1="438.99" y1="281.30" x2="438.99" y2="284.30" stroke="#000" stroke-width="1.1" />
<line x1="455.57" y1="446.20" x2="455.57" y2="443.20" stroke="#000" stroke-width="1.1" />
<line x1="455.57" y1="281.30" x2="455.57" y2="284.30" stroke="#000" stroke-width="1.1" />
<line x1="472.16" y1="446.20" x2="472.16" y2="443.20" stroke="#000" stroke-width="1.1" />
<line x1="472.16" y1="281.30" x2="472.16" y2="284.30" stroke="#000" stroke-width="1.1" />
<line x1="488.75" y1="446.20" x2="488.75" y2="443.20" stroke="#000" stroke-width="1.1" />
<line x1="488.75" y1="281.30" x2="488.75" y2="284.30" stroke="#000" stroke-width="1.1" />
<line x1="505.33" y1="446.20" x2="505.33" y2="441.20" stroke="#000" stroke-width="1.1" />
<line x1="505.33" y1="281.30" x2="505.33" y2="286.30" stroke="#000" stroke-width="1.1" />
<line x1="521.92" y1="446.20" x2="521.92" y2="443.20" stroke="#000" stroke-width="1.1" />
<line x1="521.92" y1="281.30" x2="521.92" y2="284.30" stroke="#000" stroke-width="1.1" />
<line x1="538.51" y1="446.20" x2="538.51" y2="443.20" stroke="#000" stroke-width="1.1" />
<line x1="538.51" y1="281.30" x2="538.51" y2="284.30" stroke="#000" stroke-width="1.1" />
<line x1="555.09" y1="446.20" x2="555.09" y2="443.20" stroke="#000" stroke-width="1.1" />
<line x1="555.09" y1="281.30" x2="555.09" y2="284.30" stroke="#000" stroke-width="1.1" />
<line x1="571.68" y1="446.20" x2="571.68" y2="443.20" stroke="#000" stroke-width="1.1" />
<line x1="571.68" y1="281.30" x2="571.68" y2="284.30" stroke="#000" stroke-width="1.1" />
<line x1="588.27" y1="446.20" x2="588.27" y2="441.20" stroke="#000" stroke-width="1.1" />
<line x1="588.27" y1="281.30" x2="588.27" y2="286.30" stroke="#000" stroke-width="1.1" />
<line x1="604.85" y1="446.20" x2="604.85" y2="443.20" stroke="#000" stroke-width="1.1" />
<line x1="604.85" y1="281.30" x2="604.85" y2="284.30" stroke="#000" stroke-width="1.1" />
<line x1="621.44" y1="446.20" x2="621.44" y2="443.20" stroke="#000" stroke-width="1.1" />
<line x1="621.44" y1="281.30" x2="621.44" y2="284.30" stroke="#000" stroke-width="1.1" />
<line x1="638.03" y1="446.20" x2="638.03" y2="443.20" stroke="#000" stroke-width="1.1" />
<line x1="638.03" y1="281.30" x2="638.03" y2="284.30" stroke="#000" stroke-width="1.1" />
<line x1="654.61" y1="446.20" x2="654.61" y2="443.20" stroke="#000" stroke-width="1.1" />
<line x1="654.61" y1="281.30" x2="654.61" y2="284.30" stroke="#000" stroke-width="1.1" />
<line x1="422.40" y1="347.30" x2="425.40" y2="347.30" stroke="#000" stroke-width="1.1" />
<line x1="671.20" y1="347.30" x2="668.20" y2="347.30" stroke="#000" stroke-width="1.1" />
<line x1="422.40" y1="429.72" x2="425.40" y2="429.72" stroke="#000" stroke-width="1.1" />
<line x1="671.20" y1="429.72" x2="668.20" y2="429.72" stroke="#000" stroke-width="1.1" />
<line x1="422.40" y1="330.80" x2="425.40" y2="330.80" stroke="#000" stroke-width="1.1" />
<line x1="671.20" y1="330.80" x2="668.20" y2="330.80" stroke="#000" stroke-width="1.1" />
<line x1="422.40" y1="413.24" x2="425.40" y2="413.24" stroke="#000" stroke-width="1.1" />
<line x1="671.20" y1="413.24" x2="668.20" y2="413.24" stroke="#000" stroke-width="1.1" />
<line x1="422.40" y1="314.30" x2="425.40" y2="314.30" stroke="#000" stroke-width="1.1" />
<line x1="671.20" y1="314.30" x2="668.20" y2="314.30" stroke="#000" stroke-width="1.1" />
<line x1="422.40" y1="396.76" x2="425.40" y2="396.76" stroke="#000" stroke-width="1.1" />
<line x1="671.20" y1="396.76" x2="668.20" y2="396.76" stroke="#000" stroke-width="1.1" />
<line x1="422.40" y1="297.80" x2="425.40" y2="297.80" stroke="#000" stroke-width="1.1" />
<line x1="671.20" y1="297.80" x2="668.20" y2="297.80" stroke="#000" stroke-width="1.1" />
<line x1="422.40" y1="380.28" x2="425.40" y2="380.28" stroke="#000" stroke-width="1.1" />
<line x1="671.20" y1="380.28" x2="668.20" y2="380.28" stroke="#000" stroke-width="1.1" />
<text x="415.60" y="287.40" font-size="16" text-anchor="end" font-weight="normal" fill="#000" >100</text>
<text x="416.60" y="361.00" font-size="16" text-anchor="end" font-weight="normal" fill="#000" >0</text>
<text x="415.80" y="379.40" font-size="16" text-anchor="end" font-weight="normal" fill="#000" >100</text>
<text x="416.60" y="452.80" font-size="16" text-anchor="end" font-weight="normal" fill="#000" >0</text>
<text x="422.40" y="464.30" font-size="16" text-anchor="middle" font-weight="normal" fill="#000" >-8.5</text>
<text x="505.33" y="464.30" font-size="16" text-anchor="middle" font-weight="normal" fill="#000" >-7.5</text>
<text x="588.27" y="464.30" font-size="16" text-anchor="middle" font-weight="normal" fill="#000" >-6.5</text>
<text x="671.20" y="464.30" font-size="16" text-anchor="middle" font-weight="normal" fill="#000" >-5.5</text>
<text x="546.40" y="486.40" font-size="16.2" text-anchor="middle" font-weight="normal" fill="#000" >Energy (eV/atom)</text>
<text x="379.80" y="363.60" font-size="16.2" text-anchor="middle" font-weight="normal" fill="#000" transform="rotate(-90 379.8 363.6)">Counts</text>
</svg></body></html>
